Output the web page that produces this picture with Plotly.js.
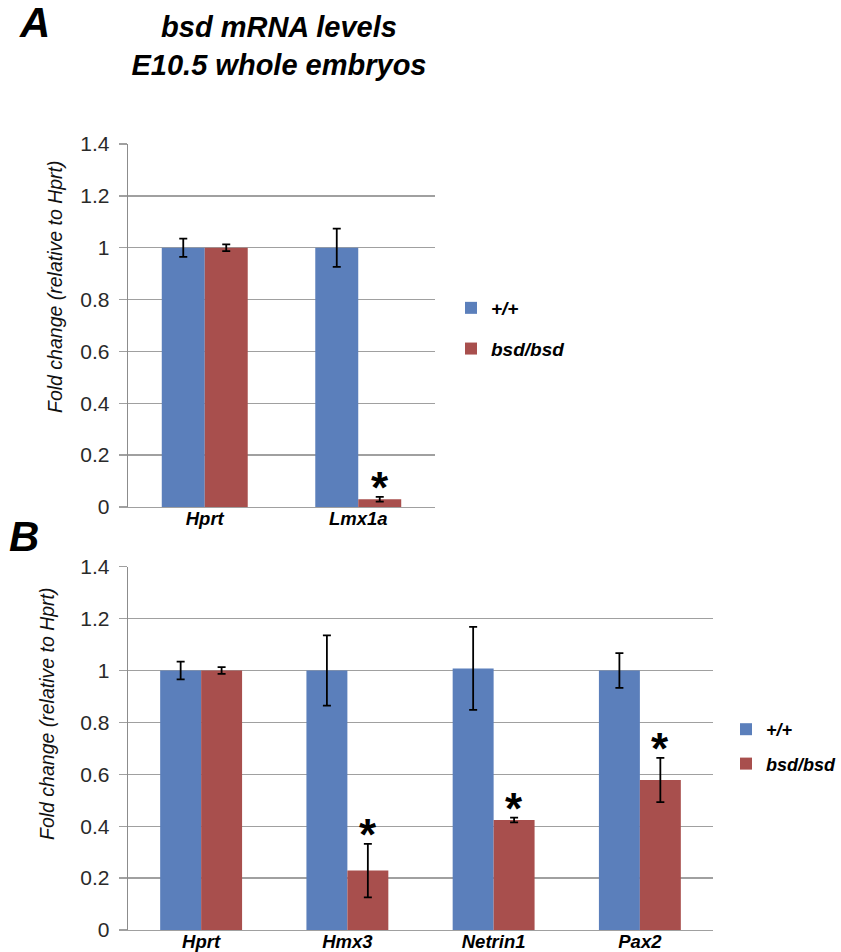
<!DOCTYPE html>
<html>
<head>
<meta charset="utf-8">
<script src="https://cdn.plot.ly/plotly-3.0.1.min.js"></script>
<style>html,body{margin:0;padding:0;background:#fff;}#chart{width:841px;height:952px;}</style>
</head>
<body>
<div id="chart"></div>
<script>
// ---- Data ----
const seriesNames = ['+/+', 'bsd/bsd'];

const catsA = ['Hprt', 'Lmx1a'];
const wtA = [1.0, 1.0];
const wtErrA = [0.035, 0.074];
const mutA = [1.0, 0.03];
const mutErrA = [0.013, 0.009];
const sigA = [false, true];

const catsB = ['Hprt', 'Hmx3', 'Netrin1', 'Pax2'];
const wtB = [1.0, 1.0, 1.008, 1.0];
const wtErrB = [0.034, 0.135, 0.16, 0.067];
const mutB = [1.0, 0.229, 0.424, 0.578];
const mutErrB = [0.013, 0.103, 0.009, 0.085];
const sigB = [false, true, true, true];

const yTicks = [0, 0.2, 0.4, 0.6, 0.8, 1, 1.2, 1.4];

// ---- Style ----
const BLUE = '#5b7fbb';
const RED = '#a84f4d';
const FONT = 'Arial, "Liberation Sans", sans-serif';
const GRID = '#a0a0a0';
const BARGAP = 0.44;
const W = 841, H = 952;

function errBar(arr) {
  return {type: 'data', array: arr, visible: true, color: '#000', thickness: 1.8, width: 4};
}

const traces = [
  {type: 'bar', name: seriesNames[0], x: catsA, y: wtA, error_y: errBar(wtErrA),
   marker: {color: BLUE}, xaxis: 'x', yaxis: 'y', legend: 'legend', legendgroup: 'a1'},
  {type: 'bar', name: seriesNames[1], x: catsA, y: mutA, error_y: errBar(mutErrA),
   marker: {color: RED}, xaxis: 'x', yaxis: 'y', legend: 'legend', legendgroup: 'a2'},
  {type: 'bar', name: seriesNames[0], x: catsB, y: wtB, error_y: errBar(wtErrB),
   marker: {color: BLUE}, xaxis: 'x2', yaxis: 'y2', legend: 'legend2', legendgroup: 'b1'},
  {type: 'bar', name: seriesNames[1], x: catsB, y: mutB, error_y: errBar(mutErrB),
   marker: {color: RED}, xaxis: 'x2', yaxis: 'y2', legend: 'legend2', legendgroup: 'b2'}
];

const annotations = [];
function addStars(cats, vals, errs, sig, xref, yref) {
  cats.forEach((c, i) => {
    if (!sig[i]) return;
    annotations.push({
      x: i + (1 - BARGAP) / 4, y: vals[i] + errs[i], xref: xref, yref: yref,
      text: '*', showarrow: false, yanchor: 'middle', yshift: 9,
      font: {family: FONT, size: 44, color: '#000', weight: 'bold'}
    });
  });
}
addStars(catsA, mutA, mutErrA, sigA, 'x', 'y');
addStars(catsB, mutB, mutErrB, sigB, 'x2', 'y2');

// panel letters
annotations.push({text: '<b><i>A</i></b>', x: 34 / W, y: 1 - 22 / H, xref: 'paper', yref: 'paper',
  showarrow: false, xanchor: 'center', yanchor: 'middle', font: {family: FONT, size: 42, color: '#000'}});
annotations.push({text: '<b><i>B</i></b>', x: 24 / W, y: 1 - 536 / H, xref: 'paper', yref: 'paper',
  showarrow: false, xanchor: 'center', yanchor: 'middle', font: {family: FONT, size: 42, color: '#000'}});

// y-axis titles
annotations.push({text: '<i>Fold change (relative to Hprt)</i>', x: 55 / W, y: 1 - 287 / H,
  xref: 'paper', yref: 'paper', showarrow: false, textangle: -90, xanchor: 'center', yanchor: 'middle',
  font: {family: FONT, size: 19.5, color: '#111'}});
annotations.push({text: '<i>Fold change (relative to Hprt)</i>', x: 47 / W, y: 1 - 714 / H,
  xref: 'paper', yref: 'paper', showarrow: false, textangle: -90, xanchor: 'center', yanchor: 'middle',
  font: {family: FONT, size: 19.5, color: '#111'}});

function yAxis(domain, anchor) {
  return {
    domain: domain, anchor: anchor, range: [0, 1.4], tickvals: yTicks, automargin: false,
    showgrid: true, gridcolor: GRID, gridwidth: 1.3, zeroline: false,
    showline: true, linecolor: '#8c8c8c', linewidth: 1.3,
    ticks: 'outside', ticklen: 8, tickcolor: GRID, tickwidth: 1.3, ticklabelstandoff: 5,
    tickfont: {family: FONT, size: 21, color: '#2a2a2a'}, fixedrange: true
  };
}
function xAxis(domain, anchor) {
  return {
    domain: domain, anchor: anchor, type: 'category', automargin: false,
    showline: true, linecolor: GRID, linewidth: 1.3, ticks: '', showgrid: false, zeroline: false,
    ticklabelstandoff: -6,
    tickfont: {family: FONT, size: 18.5, color: '#000', weight: 'bold', style: 'italic'}, fixedrange: true
  };
}

const layout = {
  width: W, height: H,
  margin: {l: 0, r: 0, t: 0, b: 0, autoexpand: false},
  paper_bgcolor: '#fff', plot_bgcolor: '#fff',
  barmode: 'group', bargap: BARGAP, bargroupgap: 0,
  title: {
    text: '<b><i>bsd mRNA levels<br>E10.5 whole embryos</i></b>',
    x: 279 / W, xanchor: 'center', xref: 'container',
    y: 1 - 37 / H, yanchor: 'middle', yref: 'container',
    font: {family: FONT, size: 29, color: '#000'}
  },
  xaxis: xAxis([128 / W, 435 / W], 'y'),
  yaxis: yAxis([1 - 507 / H, 1 - 144 / H], 'x'),
  xaxis2: xAxis([128 / W, 713 / W], 'y2'),
  yaxis2: yAxis([1 - 930 / H, 1 - 566.7 / H], 'x2'),
  legend: {
    x: 451 / W, y: 1 - 289 / H, xanchor: 'left', yanchor: 'top',
    traceorder: 'grouped', tracegroupgap: 13, bgcolor: 'rgba(0,0,0,0)',
    font: {family: FONT, size: 19, color: '#000', weight: 'bold', style: 'italic'}
  },
  legend2: {
    x: 726 / W, y: 1 - 711 / H, xanchor: 'left', yanchor: 'top',
    traceorder: 'grouped', tracegroupgap: 8, bgcolor: 'rgba(0,0,0,0)',
    font: {family: FONT, size: 18, color: '#000', weight: 'bold', style: 'italic'}
  },
  annotations: annotations,
  showlegend: true
};

Plotly.newPlot('chart', traces, layout, {displayModeBar: false, staticPlot: true});
</script>
</body>
</html>
